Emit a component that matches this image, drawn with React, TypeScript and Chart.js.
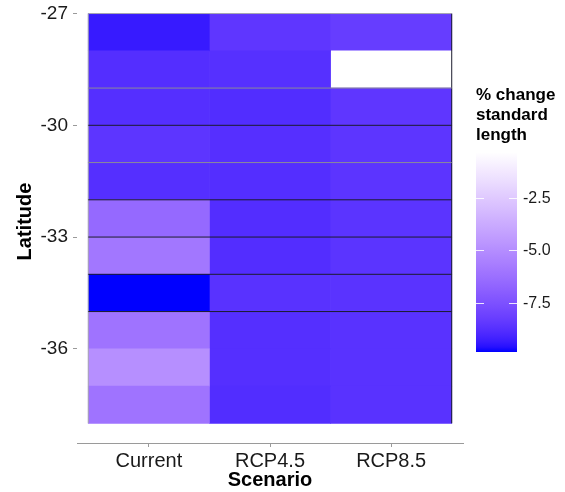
import React, { useEffect, useRef } from "react";
import { Chart, registerables } from "chart.js";

Chart.register(...registerables);

// ---------------- data ----------------
const scenarios = ["Current", "RCP4.5", "RCP8.5"];
const scenarioPositions = [1, 2, 3];
// top edge of each 1-degree latitude band (band spans lat-1 .. lat)
const latitudes = [-27, -28, -29, -30, -31, -32, -33, -34, -35, -36, -37];
const currentValues = [-9.32, -8.75, -8.72, -8.51, -8.72, -6.48, -5.9, -9.79, -6.05, -4.9, -6.05];
const rcp45Values = [-8.45, -8.68, -8.78, -8.7, -8.74, -8.76, -8.76, -8.62, -8.72, -8.72, -8.78];
const rcp85Values = [-8.23, -0.32, -8.45, -8.5, -8.52, -8.55, -8.55, -8.58, -8.62, -8.62, -8.62];
const yTickValues = [-27, -30, -33, -36];
const legendTickValues = [-2.5, -5.0, -7.5];
const darkLineLats = [-30, -32, -33, -34, -35];
const greyLineLats = [-29, -31];
const legendTitle = ["% change", "standard", "length"];
const xAxisTitle = "Scenario";
const yAxisTitle = "Latitude";

// ---------------- colour scale (Lab interpolation, blue -> white) ----------------
const WX = 0.95047, WY = 1.0, WZ = 1.08883;
function toLin(c: number) {
  c /= 255;
  return c <= 0.04045 ? c / 12.92 : Math.pow((c + 0.055) / 1.055, 2.4);
}
function fromLin(c: number) {
  const v = c <= 0.0031308 ? 12.92 * c : 1.055 * Math.pow(Math.max(c, 0), 1 / 2.4) - 0.055;
  return Math.round(Math.max(0, Math.min(1, v)) * 255);
}
function rgbToLab(rgb: number[]) {
  const R = toLin(rgb[0]), G = toLin(rgb[1]), B = toLin(rgb[2]);
  const X = (0.4124564 * R + 0.3575761 * G + 0.1804375 * B) / WX;
  const Y = (0.2126729 * R + 0.7151522 * G + 0.072175 * B) / WY;
  const Z = (0.0193339 * R + 0.119192 * G + 0.9503041 * B) / WZ;
  const f = (t: number) => (t > 0.008856 ? Math.cbrt(t) : 7.787 * t + 16 / 116);
  const fx = f(X), fy = f(Y), fz = f(Z);
  return [116 * fy - 16, 500 * (fx - fy), 200 * (fy - fz)];
}
function labToRgb(lab: number[]) {
  const fy = (lab[0] + 16) / 116;
  const fx = fy + lab[1] / 500;
  const fz = fy - lab[2] / 200;
  const inv = (t: number) => (t * t * t > 0.008856 ? t * t * t : (t - 16 / 116) / 7.787);
  const X = WX * inv(fx), Y = WY * inv(fy), Z = WZ * inv(fz);
  const R = 3.2404542 * X - 1.5371385 * Y - 0.4985314 * Z;
  const G = -0.969266 * X + 1.8760108 * Y + 0.041556 * Z;
  const B = 0.0556434 * X - 0.2040259 * Y + 1.0572252 * Z;
  return [fromLin(R), fromLin(G), fromLin(B)];
}
const LOW_LAB = rgbToLab([0, 0, 255]);
const HIGH_LAB = rgbToLab([255, 255, 255]);
const allValues = [...currentValues, ...rcp45Values, ...rcp85Values];
const cmin = Math.min(...allValues);
const cmax = Math.max(...allValues);
function fillColor(v: number) {
  const t = Math.max(0, Math.min(1, (v - cmin) / (cmax - cmin)));
  const lab = LOW_LAB.map((l, i) => l + (HIGH_LAB[i] - l) * t);
  const [r, g, b] = labToRgb(lab);
  return `rgb(${r},${g},${b})`;
}

const FONT = "'Liberation Sans', Arial, Helvetica, sans-serif";
const DARK = "#1c1c2e";
const GREY = "#8a8a9a";
const EDGE = "#a8a8b0";
const TEXT = "#1a1a1a";
const AXIS = "#9a9a9a";

export default function App() {
  const mainRef = useRef<HTMLCanvasElement>(null);
  const legendRef = useRef<HTMLCanvasElement>(null);

  useEffect(() => {
    Chart.defaults.font.family = FONT;
    Chart.defaults.color = TEXT;

    const xLeft = scenarioPositions[0] - 0.5;
    const xRight = scenarioPositions[scenarioPositions.length - 1] + 0.5;
    const yTop = Math.max(...latitudes);
    const yBottom = Math.min(...latitudes) - 1;

    const seriesValues = [currentValues, rcp45Values, rcp85Values];
    const tileSets: any[] = seriesValues.map((vals, c) => ({
      type: "bar",
      label: scenarios[c],
      data: latitudes.map((lat) => ({ x: scenarioPositions[c], y: [lat - 1, lat] })),
      backgroundColor: vals.map(fillColor),
      borderWidth: 0,
      barPercentage: 1,
      categoryPercentage: 1,
      order: 2,
    }));

    const hLine = (lat: number, color: string) => ({
      type: "line",
      data: [
        { x: xLeft, y: lat },
        { x: xRight, y: lat },
      ],
      borderColor: color,
      borderWidth: 1,
      pointRadius: 0,
      fill: false,
      order: 1,
    });
    const vLine = (x: number, color: string) => ({
      type: "line",
      data: [
        { x, y: yBottom },
        { x, y: yTop },
      ],
      borderColor: color,
      borderWidth: 1,
      pointRadius: 0,
      fill: false,
      order: 1,
    });
    const lineSets: any[] = [
      ...greyLineLats.map((lat) => hLine(lat, GREY)),
      ...darkLineLats.map((lat) => hLine(lat, DARK)),
      hLine(yTop, EDGE),
      vLine(xLeft, EDGE),
      vLine(xRight, DARK),
    ];

    const main = new Chart(mainRef.current as HTMLCanvasElement, {
      type: "bar",
      data: { datasets: [...tileSets, ...lineSets] },
      options: {
        responsive: false,
        animation: false,
        devicePixelRatio: 1,
        layout: { padding: { left: 0, top: 0, right: 102, bottom: 0 } },
        plugins: { legend: { display: false }, tooltip: { enabled: false } },
        scales: {
          x: {
            type: "linear",
            stacked: true,
            offset: false,
            min: 0.407,
            max: 3.593,
            afterBuildTicks: (s: any) => {
              s.ticks = scenarioPositions.map((value) => ({ value }));
            },
            afterFit: (s: any) => {
              s.height = 49;
              s.paddingTop = 0;
            },
            ticks: {
              callback: (v: any) => scenarios[scenarioPositions.indexOf(Number(v))] ?? "",
              font: { size: 20 },
              color: TEXT,
              padding: 2,
              maxRotation: 0,
              autoSkip: false,
            },
            grid: { drawOnChartArea: false, drawTicks: true, tickLength: 4, tickColor: AXIS, offset: false },
            border: { display: true, color: AXIS, width: 1 },
            title: {
              display: true,
              text: xAxisTitle,
              font: { size: 20, weight: "bold" },
              color: "#000",
              padding: { top: 0, bottom: 0 },
            },
          },
          y: {
            type: "linear",
            min: -38.529,
            max: -26.636,
            afterBuildTicks: (s: any) => {
              s.ticks = yTickValues.map((value) => ({ value }));
            },
            afterFit: (s: any) => {
              s.width = 77;
              s.paddingTop = 0;
              s.paddingBottom = 0;
            },
            ticks: {
              callback: (v: any) => String(v),
              font: { size: 19 },
              color: TEXT,
              padding: 5,
            },
            grid: { drawOnChartArea: false, drawTicks: true, tickLength: 4, tickColor: AXIS },
            border: { display: false },
            title: {
              display: true,
              text: yAxisTitle,
              font: { size: 20, weight: "bold" },
              color: "#000",
              padding: { top: 13.5, bottom: 0 },
            },
          },
        },
      } as any,
    });

    const legend = new Chart(legendRef.current as HTMLCanvasElement, {
      type: "bar",
      data: {
        labels: [""],
        datasets: [
          {
            data: [[cmin, cmax]],
            backgroundColor: (ctx: any) => {
              const chart = ctx.chart;
              if (!chart.chartArea) return fillColor(cmin);
              const ys = chart.scales.y;
              const g = chart.ctx.createLinearGradient(0, ys.getPixelForValue(cmin), 0, ys.getPixelForValue(cmax));
              const n = 40;
              for (let i = 0; i <= n; i++) {
                g.addColorStop(i / n, fillColor(cmin + ((cmax - cmin) * i) / n));
              }
              return g;
            },
            borderWidth: 0,
            barPercentage: 1,
            categoryPercentage: 1,
          },
        ] as any,
      },
      options: {
        responsive: false,
        animation: false,
        devicePixelRatio: 1,
        layout: { padding: { left: 6, right: 0, top: 0, bottom: 8 } },
        plugins: {
          legend: { display: false },
          tooltip: { enabled: false },
          title: {
            display: true,
            text: legendTitle,
            align: "start",
            color: "#000",
            font: { size: 17, weight: "bold", lineHeight: 1.18 },
            padding: { top: 0, bottom: 7 },
          },
        },
        scales: {
          x: { display: false },
          y: {
            position: "right",
            min: cmin,
            max: cmax,
            afterBuildTicks: (s: any) => {
              s.ticks = legendTickValues.map((value) => ({ value }));
            },
            afterFit: (s: any) => {
              s.width = 48;
              s.paddingTop = 0;
              s.paddingBottom = 0;
            },
            ticks: {
              callback: (v: any) => Number(v).toFixed(1),
              font: { size: 16 },
              color: TEXT,
              padding: 6,
            },
            grid: { drawOnChartArea: true, drawTicks: false, color: "rgba(255,255,255,0.85)", lineWidth: 1, z: 1 },
            border: { display: false, dash: [8, 25] },
          },
        },
      } as any,
    });

    return () => {
      main.destroy();
      legend.destroy();
    };
  }, []);

  return (
    <div style={{ position: "absolute", left: 0, top: 0, width: 565, height: 492 }}>
      <canvas ref={mainRef} width={565} height={492} style={{ position: "absolute", left: 0, top: 0 }} />
      <canvas ref={legendRef} width={95} height={275} style={{ position: "absolute", left: 470, top: 85 }} />
    </div>
  );
}
